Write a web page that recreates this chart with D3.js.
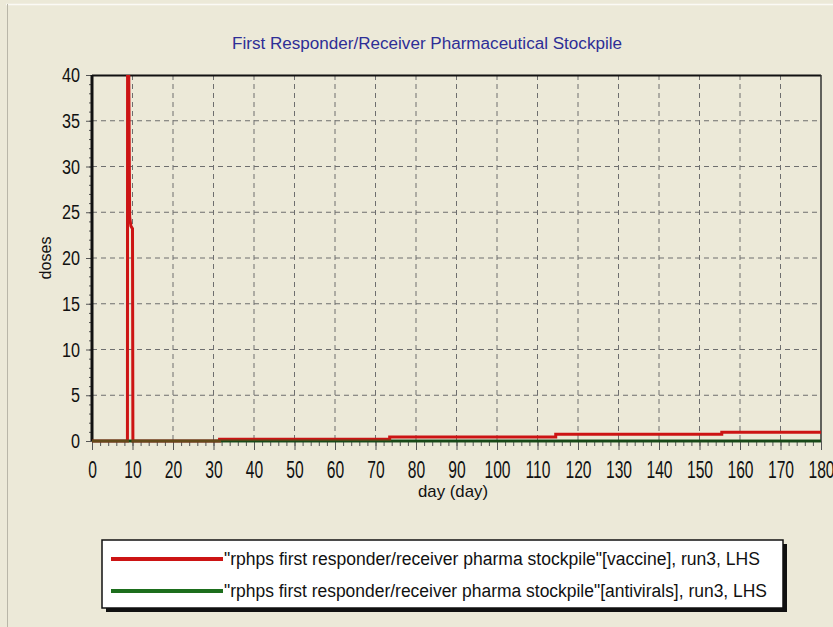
<!DOCTYPE html>
<html>
<head>
<meta charset="utf-8">
<script src="https://cdn.jsdelivr.net/npm/d3@7"></script>
<style>
  html, body { margin: 0; padding: 0; background: #ece9d8; }
  svg { display: block; }
  text { font-family: "Liberation Sans", Arial, sans-serif; }
</style>
</head>
<body>
<script>
// Chart data
var title = "First Responder/Receiver Pharmaceutical Stockpile";
var xLabel = "day (day)",
    yLabel = "doses";
var xTicks = [0, 10, 20, 30, 40, 50, 60, 70, 80, 90, 100, 110, 120, 130, 140, 150, 160, 170, 180];
var yTicks = [0, 5, 10, 15, 20, 25, 30, 35, 40];

// vaccine stockpile (spike near day 9 goes past the top of the axis)
var vaccineDays   = [0, 8.75, 8.8, 9.3, 9.6, 10.0, 10.1, 31.5, 31.5, 73.5, 73.5, 114.5, 114.5, 155.5, 155.5, 180];
var vaccineDoses  = [0, 0,    60,  24.5, 23.5, 23.2, 0,   0,    0.2,  0.2,  0.45, 0.45,  0.75,  0.75,  0.95,  0.95];
// antivirals stockpile
var antiviralDays  = [0, 180];
var antiviralDoses = [0, 0];

var legendNames = [
    "\"rphps first responder/receiver pharma stockpile\"[vaccine], run3, LHS",
    "\"rphps first responder/receiver pharma stockpile\"[antivirals], run3, LHS"
];
var colors = ["#cc1414", "#1d6e1d"];

// Set the dimensions of the canvas / graph
var W = 833, H = 627;
var margin = {top: 75, right: 12, bottom: 186, left: 92},
    width = W - margin.left - margin.right,
    height = H - margin.top - margin.bottom;

var xScale = d3.scaleLinear().domain([0, 180]).range([0, width]);
var yScale = d3.scaleLinear().domain([0, 40]).range([height, 0]);

var svg = d3.select("body").append("svg")
    .attr("width", W)
    .attr("height", H);

// window frame lines
svg.append("line").attr("x1", 6).attr("x2", W).attr("y1", 4.5).attr("y2", 4.5)
    .attr("stroke", "#fbfaf5").attr("stroke-width", 1.5);
svg.append("line").attr("x1", 7.5).attr("x2", 7.5).attr("y1", 4).attr("y2", H)
    .attr("stroke", "#b9b6a8").attr("stroke-width", 1);

// Title
svg.append("text")
    .attr("x", 427).attr("y", 49)
    .attr("text-anchor", "middle")
    .attr("font-size", 16)
    .attr("fill", "#2e2e96")
    .attr("textLength", 390).attr("lengthAdjust", "spacingAndGlyphs")
    .text(title);

var g = svg.append("g")
    .attr("transform", "translate(" + margin.left + "," + margin.top + ")");

// grid
g.selectAll(".vgrid").data(xTicks.slice(1, -1)).enter().append("line")
    .attr("x1", function (d) { return xScale(d); })
    .attr("x2", function (d) { return xScale(d); })
    .attr("y1", 0).attr("y2", height)
    .attr("stroke", "#6e6e6e").attr("stroke-width", 1)
    .attr("stroke-dasharray", "5,4");
g.selectAll(".hgrid").data(yTicks.slice(1, -1)).enter().append("line")
    .attr("x1", 0).attr("x2", width)
    .attr("y1", function (d) { return yScale(d); })
    .attr("y2", function (d) { return yScale(d); })
    .attr("stroke", "#6e6e6e").attr("stroke-width", 1)
    .attr("stroke-dasharray", "5,4");

// X axis (major + minor ticks)
var xMinor = g.append("g")
    .attr("transform", "translate(0," + height + ")")
    .call(d3.axisBottom(xScale).tickValues(d3.range(0, 181, 2)).tickSize(5).tickFormat(""));
var xAxis = g.append("g")
    .attr("transform", "translate(0," + height + ")")
    .call(d3.axisBottom(xScale).tickValues(xTicks).tickSize(9).tickPadding(12));
xAxis.selectAll("text")
    .attr("font-size", 23)
    .attr("fill", "#111")
    .attr("transform", "scale(0.68,1)");

// Y axis (major + minor ticks)
var yMinor = g.append("g")
    .call(d3.axisLeft(yScale).tickValues(d3.range(0, 41, 1)).tickSize(3).tickFormat(""));
var yAxis = g.append("g")
    .call(d3.axisLeft(yScale).tickValues(yTicks).tickSize(6).tickPadding(6));
yAxis.selectAll("text")
    .attr("font-size", 21)
    .attr("fill", "#111")
    .attr("x", -12 / 0.77)
    .attr("transform", "scale(0.77,1)");

[xMinor, xAxis, yMinor, yAxis].forEach(function (a) {
    a.select(".domain").remove();
    a.selectAll("line").attr("stroke", "#555");
});

// plot frame
g.append("line").attr("x1", 0).attr("x2", width).attr("y1", 0.5).attr("y2", 0.5)
    .attr("stroke", "#111").attr("stroke-width", 2);
g.append("line").attr("x1", width).attr("x2", width).attr("y1", 0).attr("y2", height)
    .attr("stroke", "#333").attr("stroke-width", 1.5);

// series
g.append("clipPath").attr("id", "plotclip")
    .append("rect").attr("x", 0).attr("y", 0).attr("width", width + 2).attr("height", height + 3);

var line = d3.line()
    .x(function (d) { return xScale(d[0]); })
    .y(function (d) { return yScale(d[1]); });

var vaccine = d3.zip(vaccineDays, vaccineDoses);
var antivirals = d3.zip(antiviralDays, antiviralDoses);

// axes lines (drawn under the series)
g.append("line").attr("x1", 0).attr("x2", width).attr("y1", height).attr("y2", height)
    .attr("stroke", "#111").attr("stroke-width", 2.5);
g.append("line").attr("x1", 0).attr("x2", 0).attr("y1", 0).attr("y2", height)
    .attr("stroke", "#111").attr("stroke-width", 3);

var series = g.append("g").attr("clip-path", "url(#plotclip)");
series.append("path")
    .datum(vaccine)
    .attr("d", line)
    .attr("fill", "none")
    .attr("stroke", colors[0])
    .attr("stroke-width", 3);
series.append("path")
    .datum(antivirals)
    .attr("d", line)
    .attr("fill", "none")
    .attr("stroke", colors[1])
    .attr("stroke-opacity", 0.6)
    .attr("stroke-width", 3);

// axis titles
svg.append("text")
    .attr("transform", "translate(51,258) rotate(-90)")
    .attr("text-anchor", "middle")
    .attr("font-size", 17)
    .attr("fill", "#111")
    .attr("textLength", 43).attr("lengthAdjust", "spacingAndGlyphs")
    .text(yLabel);
svg.append("text")
    .attr("x", 453).attr("y", 497)
    .attr("text-anchor", "middle")
    .attr("font-size", 17)
    .attr("fill", "#111")
    .attr("textLength", 70).attr("lengthAdjust", "spacingAndGlyphs")
    .text(xLabel);

// legend
var legend = svg.append("g").attr("transform", "translate(102,540)");
legend.append("rect")
    .attr("x", 4).attr("y", 4).attr("width", 681).attr("height", 68)
    .attr("fill", "#111");
legend.append("rect")
    .attr("x", 0).attr("y", 0).attr("width", 681).attr("height", 68)
    .attr("fill", "#fff").attr("stroke", "#111").attr("stroke-width", 1.5);

var legendLengths = [536, 543];
var items = legend.selectAll(".item").data(legendNames).enter().append("g")
    .attr("transform", function (d, i) { return "translate(0," + (19 + i * 32) + ")"; });
items.append("line")
    .attr("x1", 9).attr("x2", 121).attr("y1", 0).attr("y2", 0)
    .attr("stroke", function (d, i) { return colors[i]; })
    .attr("stroke-width", 4);
items.append("text")
    .attr("x", 122).attr("y", 6)
    .attr("font-size", 18)
    .attr("fill", "#111")
    .attr("textLength", function (d, i) { return legendLengths[i]; })
    .attr("lengthAdjust", "spacingAndGlyphs")
    .text(function (d) { return d; });
</script>
</body>
</html>
